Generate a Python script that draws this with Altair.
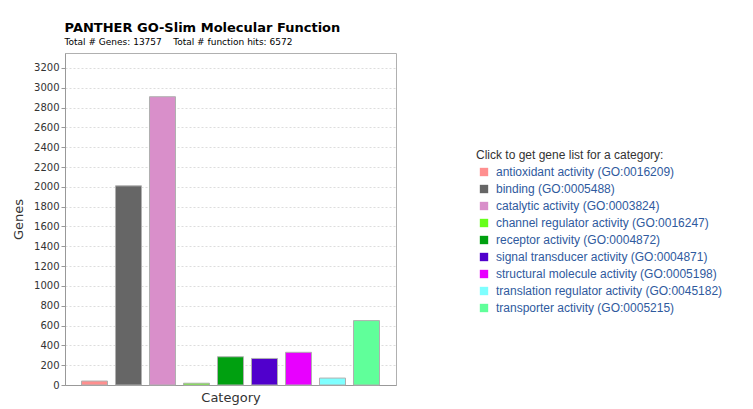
import altair as alt
import pandas as pd

categories = [
    "antioxidant activity (GO:0016209)",
    "binding (GO:0005488)",
    "catalytic activity (GO:0003824)",
    "channel regulator activity (GO:0016247)",
    "receptor activity (GO:0004872)",
    "signal transducer activity (GO:0004871)",
    "structural molecule activity (GO:0005198)",
    "translation regulator activity (GO:0045182)",
    "transporter activity (GO:0005215)",
]
genes = [40, 2010, 2910, 18, 285, 268, 330, 70, 650]
colors = ["#FF8F8F", "#666666", "#D98FCA", "#66FF1A", "#00A010",
          "#5000CC", "#E800FF", "#7FFFFF", "#60FF9A"]

df = pd.DataFrame({"category": categories, "genes": genes,
                   "idx": list(range(len(categories)))})
color_scale = alt.Scale(domain=categories, range=colors)
FONT = "DejaVu Sans"
LFONT = "Liberation Sans"

bars = alt.Chart(df).mark_bar(stroke="#b0b0b0", strokeWidth=1).encode(
    x=alt.X("category:N", sort=categories, title="Category",
            scale=alt.Scale(paddingInner=0.235, paddingOuter=0.485),
            axis=alt.Axis(labels=False, ticks=False, domainColor="#999",
                          titleFont=FONT, titleFontSize=13, titleFontWeight="normal",
                          titleColor="#333", titlePadding=6)),
    y=alt.Y("genes:Q", title="Genes",
            scale=alt.Scale(domain=[0, 3351], nice=False),
            axis=alt.Axis(values=list(range(0, 3201, 200)), format="d", gridDash=[2, 2],
                          gridColor="#dddddd", domainColor="#999", tickColor="#999",
                          tickSize=4, labelFont=FONT, labelFontSize=10,
                          labelColor="#333", titleFont=FONT, titleFontSize=13,
                          titleFontWeight="normal", titleColor="#333",
                          titlePadding=8)),
    color=alt.Color("category:N", scale=color_scale, legend=None),
).properties(
    width=331, height=332,
    view=alt.ViewBackground(stroke="#b0b0b0"),
    title=alt.TitleParams(
        "PANTHER GO-Slim Molecular Function",
        subtitle="\u00a0\u00a0Total # Genes: 13757\u00a0\u00a0\u00a0\u00a0Total # function hits: 6572",
        anchor="start", dx=52, font=FONT, fontSize=13, fontWeight="bold",
        subtitleFont=FONT, subtitleFontSize=9, subtitleColor="#000",
        subtitlePadding=3, offset=6),
)

base = alt.Chart(df).transform_calculate(ypos="119 + 17 * datum.idx")
ysc = alt.Y("ypos:Q", scale=alt.Scale(domain=[0, 332], reverse=True), axis=None)
squares = base.mark_square(size=70, opacity=1).encode(
    x=alt.value(14), y=ysc,
    color=alt.Color("category:N", scale=color_scale, legend=None))
labels = base.mark_text(align="left", baseline="middle", font=LFONT, fontSize=12,
                        color="#2F5A9E").encode(
    x=alt.value(26), y=ysc, text="category:N")
head = alt.Chart(pd.DataFrame({"t": ["Click to get gene list for a category:"]})).mark_text(
    align="left", baseline="middle", font=LFONT, fontSize=12, color="#333").encode(
    x=alt.value(6), y=alt.value(102), text="t:N")
legend = (squares + labels + head).properties(
    width=270, height=332, view=alt.ViewBackground(stroke=None))

chart = alt.HConcatChart(hconcat=[bars, legend], spacing=73).properties(
    background="white", padding={"left": 4, "top": 13, "right": 0, "bottom": 0})

chart.save("out.html", embed_options={"renderer": "svg", "actions": False})
